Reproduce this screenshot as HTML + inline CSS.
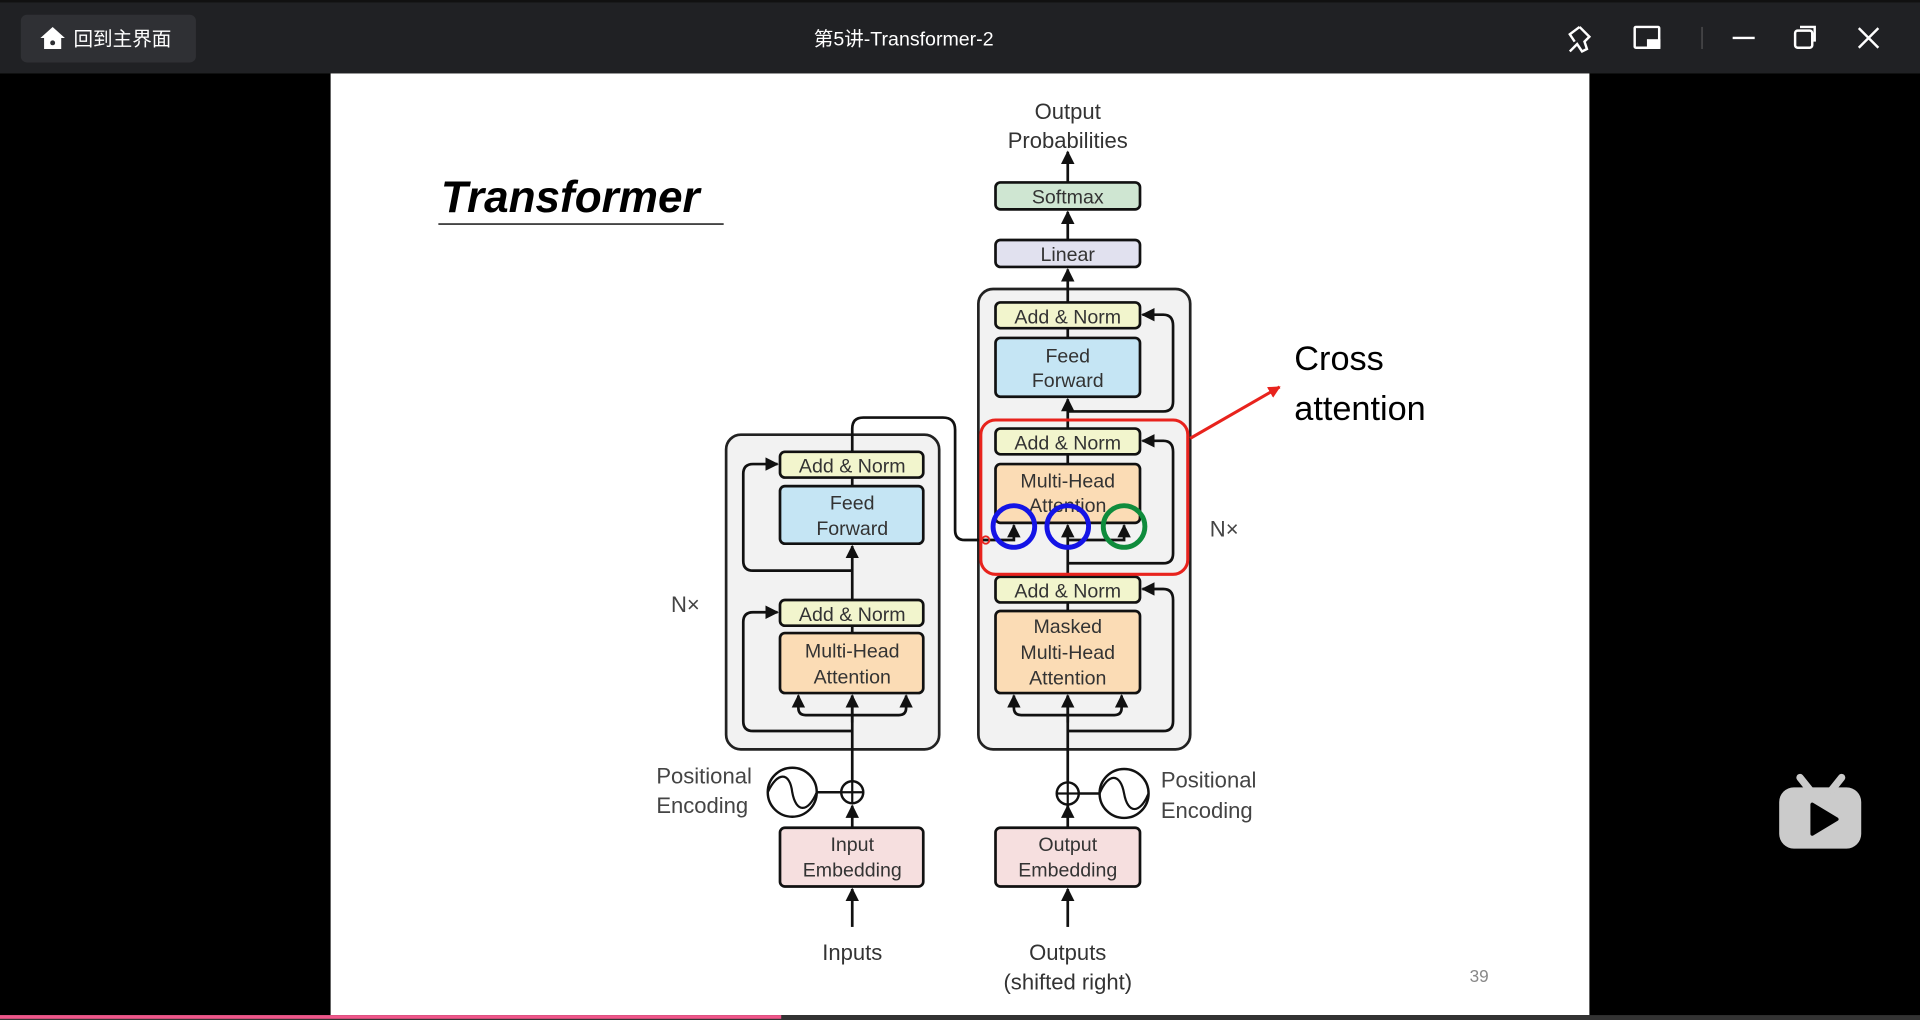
<!DOCTYPE html>
<html><head><meta charset="utf-8"><style>
html,body{margin:0;padding:0;background:#000;width:1920px;height:1020px;overflow:hidden}
svg{display:block}
text{font-family:"Liberation Sans","Noto Sans CJK SC",sans-serif}
</style></head><body>
<svg width="1920" height="1020" viewBox="0 0 1568 833" xmlns="http://www.w3.org/2000/svg">
<defs>
<marker id="a" viewBox="0 0 10 10" refX="9" refY="5" markerWidth="5" markerHeight="5" orient="auto-start-reverse"><path d="M0,0 L10,5 L0,10 z" fill="#111"/></marker>
<marker id="r" viewBox="0 0 10 10" refX="9" refY="5" markerWidth="4" markerHeight="4" orient="auto"><path d="M0,0 L10,5 L0,10 z" fill="#e8231d"/></marker>
</defs>
<rect x="0" y="0" width="1568" height="833" fill="#000"/>
<!-- title bar -->
<rect x="0" y="0" width="1568" height="60" fill="#202124"/>
<rect x="0" y="0" width="1568" height="2" fill="#111"/>
<rect x="17" y="12" width="143" height="39" rx="5" fill="#2f3034"/>
<path d="M33,31 L43,22 L53,31 L50,31 L50,40 L36,40 L36,31 Z" fill="#fff"/>
<circle cx="43" cy="35" r="2" fill="#2f3034"/>
<text x="60" y="37" font-size="16" fill="#fff">回到主界面</text>
<text x="738" y="37" font-size="16" fill="#fff" text-anchor="middle">第5讲-Transformer-2</text>
<g stroke="#fff" stroke-width="2" fill="none">
<path d="M1290,22 l8,8 -4,4 2,6 -4,2 -4,-6 -6,6 M1290,22 l-8,6 4,6"/>
<rect x="1335" y="22" width="20" height="17" rx="1"/>
<line x1="1415" y1="31" x2="1433" y2="31"/>
<rect x="1466" y="25" width="14" height="14" rx="2"/>
<path d="M1470,22 h12 v12"/>
<path d="M1518,23 l16,16 M1534,23 l-16,16"/>
</g>
<rect x="1345" y="32" width="11" height="8" fill="#fff"/>
<line x1="1390" y1="22" x2="1390" y2="40" stroke="#555" stroke-width="1"/>
<!-- slide -->
<rect x="270" y="60" width="1028" height="769" fill="#fff"/>
<rect x="0" y="829" width="1568" height="4" fill="#333"/>
<rect x="0" y="829" width="638" height="3" fill="#f0568a"/>
<!-- bilibili -->
<g fill="#cbcbcb"><rect x="1453" y="643" width="67" height="50" rx="12"/>
<path d="M1470,635 l8,10 M1504,635 l-8,10" stroke="#cbcbcb" stroke-width="6" stroke-linecap="round"/></g>
<path d="M1480,657 l0,24 l20,-12 z" fill="#000" stroke="#000" stroke-width="3" stroke-linejoin="round"/>

<text x="360" y="173" font-size="36" font-weight="bold" font-style="italic" fill="#000" font-family="Liberation Sans">Transformer</text>
<line x1="358" y1="183" x2="591" y2="183" stroke="#444" stroke-width="1.5"/>

<g font-size="16" fill="#333" text-anchor="middle">
<text x="872" y="97" font-size="18">Output</text>
<text x="872" y="121" font-size="18">Probabilities</text>
</g>
<!-- outer blocks -->
<rect x="593" y="355" width="174" height="257" rx="12" fill="#f2f2f2" stroke="#222" stroke-width="2.2"/>
<rect x="799" y="236" width="173" height="376" rx="12" fill="#f2f2f2" stroke="#222" stroke-width="2.2"/>

<g stroke="#111" stroke-width="2.2" fill="none">
<!-- decoder main -->
<line x1="872" y1="149" x2="872" y2="124" marker-end="url(#a)"/>
<line x1="872" y1="196" x2="872" y2="173" marker-end="url(#a)"/>
<line x1="872" y1="247" x2="872" y2="220" marker-end="url(#a)"/>
<line x1="872" y1="276" x2="872" y2="268"/>
<line x1="872" y1="350" x2="872" y2="326" marker-end="url(#a)"/>
<line x1="872" y1="379" x2="872" y2="371"/>
<line x1="872" y1="471" x2="872" y2="448"/>
<line x1="872" y1="499" x2="872" y2="492"/>
<line x1="872" y1="668" x2="872" y2="568"/>
<line x1="872" y1="757" x2="872" y2="726" marker-end="url(#a)"/>
<line x1="872" y1="676" x2="872" y2="658" marker-end="url(#a)"/>
<!-- encoder main -->
<line x1="696" y1="757" x2="696" y2="726" marker-end="url(#a)"/>
<line x1="696" y1="676" x2="696" y2="658" marker-end="url(#a)"/>
<line x1="696" y1="638" x2="696" y2="568"/>
<line x1="696" y1="517" x2="696" y2="511"/>
<line x1="696" y1="490" x2="696" y2="446" marker-end="url(#a)"/>
<line x1="696" y1="397" x2="696" y2="390"/>
<!-- encoder output -->
<path d="M696,369 L696,350 Q696,341 705,341 L770,341 Q780,341 780,351 L780,433 Q780,441 788,441 L813,441"/>
<!-- encoder residuals -->
<path d="M696,597 L615,597 Q607,597 607,589 L607,508 Q607,500 615,500 L635,500" marker-end="url(#a)"/>
<path d="M696,466 L615,466 Q607,466 607,458 L607,387 Q607,379 615,379 L635,379" marker-end="url(#a)"/>
<path d="M652,568 L652,578 Q652,584 658,584 L734,584 Q740,584 740,578 L740,568" marker-start="url(#a)" marker-end="url(#a)"/>
<line x1="696" y1="590" x2="696" y2="568" marker-end="url(#a)"/>
<!-- decoder residuals -->
<path d="M872,597 L950,597 Q958,597 958,589 L958,490 Q958,481 950,481 L933,481" marker-end="url(#a)"/>
<path d="M872,460 L950,460 Q958,460 958,452 L958,369 Q958,360 950,360 L933,360" marker-end="url(#a)"/>
<path d="M872,336 L950,336 Q958,336 958,328 L958,266 Q958,257 950,257 L933,257" marker-end="url(#a)"/>
<path d="M828,568 L828,578 Q828,584 834,584 L910,584 Q916,584 916,578 L916,568" marker-start="url(#a)" marker-end="url(#a)"/>
<line x1="872" y1="590" x2="872" y2="568" marker-end="url(#a)"/>
<!-- cross attention inputs -->
<path d="M813,441 L828,441 L828,429" marker-end="url(#a)"/>
<line x1="872" y1="448" x2="872" y2="429" marker-end="url(#a)"/>
<path d="M872,441 L918,441 L918,429" marker-end="url(#a)"/>
</g>

<!-- boxes -->
<g stroke="#111" stroke-width="2.2">
<rect x="813" y="149" width="118" height="22" rx="4" fill="#cfe6d2"/>
<rect x="813" y="196" width="118" height="22" rx="4" fill="#e1e1ef"/>
<rect x="813" y="247" width="118" height="21" rx="4" fill="#f2f5cd"/>
<rect x="813" y="276" width="118" height="48" rx="4" fill="#c5e5f4"/>
<rect x="813" y="350" width="118" height="21" rx="4" fill="#f2f5cd"/>
<rect x="813" y="379" width="118" height="48" rx="4" fill="#fbdcb5"/>
<rect x="813" y="471" width="118" height="21" rx="4" fill="#f2f5cd"/>
<rect x="813" y="499" width="118" height="67" rx="4" fill="#fbdcb5"/>
<rect x="813" y="676" width="118" height="48" rx="4" fill="#f6dfdf"/>
<rect x="637" y="369" width="117" height="21" rx="4" fill="#f2f5cd"/>
<rect x="637" y="397" width="117" height="47" rx="4" fill="#c5e5f4"/>
<rect x="637" y="490" width="117" height="21" rx="4" fill="#f2f5cd"/>
<rect x="637" y="517" width="117" height="49" rx="4" fill="#fbdcb5"/>
<rect x="637" y="676" width="117" height="48" rx="4" fill="#f6dfdf"/>
</g>
<g font-size="16" fill="#333" text-anchor="middle">
<text x="872" y="166">Softmax</text>
<text x="872" y="213">Linear</text>
<text x="872" y="264">Add &amp; Norm</text>
<text x="872" y="296">Feed</text><text x="872" y="316">Forward</text>
<text x="872" y="367">Add &amp; Norm</text>
<text x="872" y="398">Multi-Head</text><text x="872" y="418">Attention</text>
<text x="872" y="488">Add &amp; Norm</text>
<text x="872" y="517">Masked</text><text x="872" y="538">Multi-Head</text><text x="872" y="559">Attention</text>
<text x="872" y="695">Output</text><text x="872" y="716">Embedding</text>
<text x="696" y="386">Add &amp; Norm</text>
<text x="696" y="416">Feed</text><text x="696" y="437">Forward</text>
<text x="696" y="507">Add &amp; Norm</text>
<text x="696" y="537">Multi-Head</text><text x="696" y="558">Attention</text>
<text x="696" y="695">Input</text><text x="696" y="716">Embedding</text>
<text x="696" y="784" font-size="18">Inputs</text>
<text x="872" y="784" font-size="18">Outputs</text>
<text x="872" y="808" font-size="18">(shifted right)</text>
</g>
<g font-size="18" fill="#444">
<text x="536" y="640">Positional</text><text x="536" y="664">Encoding</text>
<text x="948" y="643">Positional</text><text x="948" y="668">Encoding</text>
<text x="548" y="500">N×</text>
<text x="988" y="438">N×</text>
</g>
<!-- positional encodings -->
<g stroke="#111" stroke-width="2" fill="#fff">
<line x1="667" y1="647" x2="687" y2="647"/>
<circle cx="647" cy="647" r="20"/>
<circle cx="696" cy="647" r="9"/>
<line x1="881" y1="648" x2="898" y2="648"/>
<circle cx="918" cy="648" r="20"/>
<circle cx="872" cy="648" r="9"/>
</g>
<g stroke="#111" stroke-width="1.8" fill="none">
<path d="M627,647 C635,630 645,630 647,647 C650,664 660,664 667,647"/>
<path d="M898,648 C905,631 915,631 918,648 C921,665 931,665 938,648"/>
<path d="M687,647 h18 M696,638 v18 M863,648 h18 M872,639 v18"/>
</g>
<!-- highlights -->
<rect x="801" y="343" width="169" height="126" rx="12" fill="none" stroke="#e8231d" stroke-width="2.5"/>
<line x1="972" y1="358" x2="1045" y2="316" stroke="#e8231d" stroke-width="2.5" marker-end="url(#r)"/>
<circle cx="828" cy="430" r="17" fill="none" stroke="#1414e6" stroke-width="4"/>
<circle cx="872" cy="430" r="17" fill="none" stroke="#1414e6" stroke-width="4"/>
<circle cx="918" cy="430" r="17" fill="none" stroke="#0f8c3c" stroke-width="4"/>
<circle cx="805" cy="441" r="3" fill="none" stroke="#e8231d" stroke-width="1.5"/>
<text x="1057" y="302" font-size="28" fill="#000">Cross</text>
<text x="1057" y="343" font-size="28" fill="#000">attention</text>
<text x="1208" y="802" font-size="14" fill="#888" text-anchor="middle">39</text>
</svg>
</body></html>
